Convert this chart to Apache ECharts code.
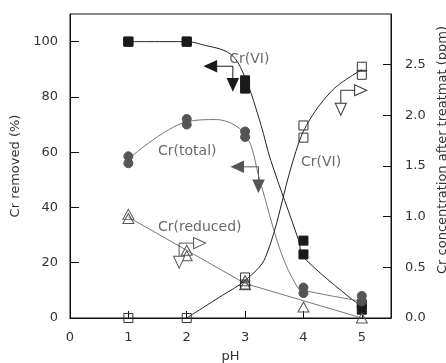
<!DOCTYPE html>
<html>
<head>
<meta charset="utf-8">
<script src="https://cdn.jsdelivr.net/npm/echarts@6/dist/echarts.min.js"></script>
<style>
  html, body { margin: 0; padding: 0; background: #fff; }
  #chart { width: 446px; height: 363px; }
</style>
</head>
<body>
<div id="chart"></div>
<script>
// measured points, two replicates per pH
const crVIRemoved = [[1,100],[1,100],[2,100],[2,100],[3,83],[3,86],[4,23],[4,28],[5,3],[5,5]];
const crTotalRemoved = [[1,56],[1,58.5],[2,70],[2,72],[3,65.5],[3,67.5],[4,9],[4,11],[5,6],[5,8]];
const crReducedRemoved = [[1,36],[1,37.5],[2,22.5],[2,24.5],[3,12],[3,13.5],[4,4],[5,0]];
const crVIConc = [[1,0],[2,0],[3,0.33],[3,0.40],[4,1.78],[4,1.9],[5,2.40],[5,2.48]];

// fitted curves
const crVIFit = [[1,100],[2,100],[2.25,99],[2.75,95.5],[3,87],[3.27,70],[3.44,57],[3.92,28],[4,22],[5,4]];
const crTotalFit = [[1,57.5],[2,71],[2.5,71.8],[3,66.5],[3.25,50],[3.61,24],[3.9,11],[4,10],[5,6]];
const crReducedFit = [[1,36.5],[3,12.5],[5,0]];
const crVIConcFit = [[2,0],[2.6,0.22],[3,0.37],[3.35,0.6],[3.82,1.55],[4.05,1.9],[4.5,2.25],[5,2.45]];

// axis pointers: first point = side arrow, middle = corner, last = down arrow
const arrowVI = [[2.41,91.1],[2.79,91.1],[2.79,84.5]];
const arrowTotal = [[2.87,54.7],[3.23,54.7],[3.23,47.8]];
const arrowReduced = [[2.22,27.1],[1.87,27.1],[1.87,20.2]];
const arrowConc = [[4.98,82.4],[4.64,82.4],[4.64,75.5]];

const labelTexts = ['Cr(VI)', 'Cr(total)', 'Cr(reduced)', 'Cr(VI)'];
const labelPos = [[2.72,93.5],[1.5,60.2],[1.5,32.9],[3.95,56.2]];

const FONT = 'DejaVu Sans';
const chart = echarts.init(document.getElementById('chart'));

const fitLine = (data, color, yAxisIndex, smooth) => ({
  type: 'line', data, yAxisIndex, smooth, symbol: 'none', silent: true,
  lineStyle: { color, width: 1 }, z: 2
});

const marks = (data, symbol, size, fill, border, yAxisIndex) => ({
  type: 'scatter', data, yAxisIndex, symbol, symbolSize: size, silent: true,
  itemStyle: { color: fill, borderColor: border, borderWidth: 1, opacity: 1 }, z: 3
});

// elbow arrow: line plus two triangles
const arrow = (pts, sideRotate, fill, border) => [
  { type: 'line', data: pts, symbol: 'none', silent: true,
    lineStyle: { color: border, width: 1 }, z: 4 },
  { type: 'scatter', silent: true, z: 5, symbol: 'triangle', symbolSize: [11, 12],
    data: [
      { value: pts[0], symbolRotate: sideRotate },
      { value: pts[2], symbolRotate: 180 }
    ],
    itemStyle: { color: fill, borderColor: border, borderWidth: 1, opacity: 1 } }
];

chart.setOption({
  animation: false,
  grid: {
    left: 70, right: 55, top: 14, bottom: 45, containLabel: false, outerBoundsMode: 'none',
    show: true, borderColor: '#111', borderWidth: 1
  },
  xAxis: {
    type: 'value', min: 0, max: 5.5, interval: 1,
    name: 'pH', nameLocation: 'middle', nameGap: 32,
    nameTextStyle: { fontFamily: FONT, fontSize: 13, color: '#333' },
    axisLine: { lineStyle: { color: '#111' } },
    axisTick: { inside: true, length: 7, lineStyle: { color: '#111' } },
    axisLabel: { showMaxLabel: false, margin: 13, fontFamily: FONT, fontSize: 13, color: '#333' },
    splitLine: { show: false }
  },
  yAxis: [
    {
      type: 'value', min: 0, max: 110, interval: 20,
      name: 'Cr removed (%)', nameLocation: 'middle', nameGap: 39,
      nameTextStyle: { fontFamily: FONT, fontSize: 13, color: '#333' },
      axisLine: { show: true, lineStyle: { color: '#111' } },
      axisTick: { inside: true, length: 9, lineStyle: { color: '#111' } },
      axisLabel: { showMaxLabel: false, margin: 12, fontFamily: FONT, fontSize: 13, color: '#333' },
      splitLine: { show: false }
    },
    {
      type: 'value', min: 0, max: 3, interval: 0.5, position: 'right',
      name: 'Cr concentration after treatmat (ppm)', nameLocation: 'middle', nameGap: 43,
      nameRotate: 90,
      nameTextStyle: { fontFamily: FONT, fontSize: 13, color: '#333', padding: [0, 0, 0, 32] },
      axisLine: { show: true, lineStyle: { color: '#111' } },
      axisTick: { inside: true, length: 8, lineStyle: { color: '#111' } },
      axisLabel: { showMaxLabel: false, margin: 14, fontFamily: FONT, fontSize: 13, color: '#333',
        formatter: v => v.toFixed(1) },
      splitLine: { show: false }
    }
  ],
  series: [
    fitLine(crVIFit, '#222', 0, 0.35),
    fitLine(crTotalFit, '#777', 0, 0.35),
    fitLine(crReducedFit, '#777', 0, false),
    fitLine(crVIConcFit, '#222', 1, 0.35),
    marks(crVIRemoved, 'rect', 9, '#1a1a1a', '#1a1a1a', 0),
    marks(crTotalRemoved, 'circle', 9, '#555', '#555', 0),
    marks(crReducedRemoved, 'triangle', [11, 10], 'rgba(255,255,255,0)', '#555', 0),
    marks(crVIConc, 'rect', 9, 'rgba(255,255,255,0)', '#333', 1),
    ...arrow(arrowVI, 90, '#1a1a1a', '#1a1a1a'),
    ...arrow(arrowTotal, 90, '#555', '#555'),
    ...arrow(arrowReduced, -90, '#fff', '#555'),
    ...arrow(arrowConc, -90, '#fff', '#333'),
    {
      type: 'scatter', silent: true, symbolSize: 1, z: 6,
      itemStyle: { color: 'rgba(0,0,0,0)' },
      data: labelPos.map((p, i) => ({ value: p, name: labelTexts[i] })),
      label: {
        show: true, position: 'right', distance: 0, formatter: p => p.name,
        fontFamily: FONT, fontSize: 14, color: '#444'
      }
    }
  ]
});
</script>
</body>
</html>
